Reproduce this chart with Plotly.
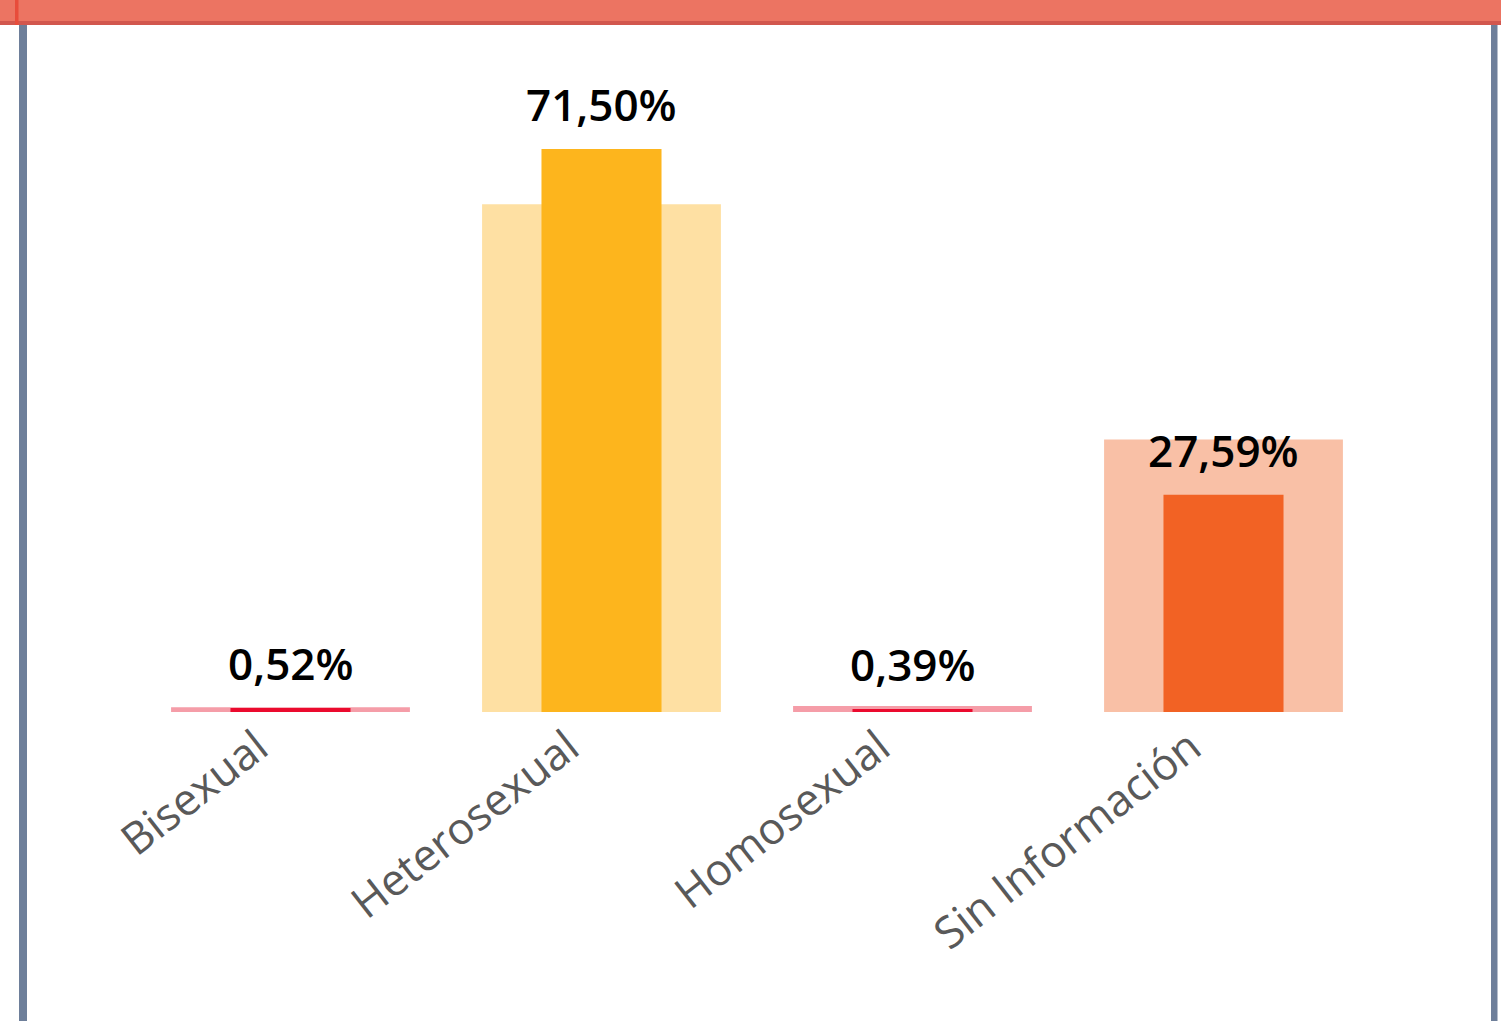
import plotly.graph_objects as go

categories = ["Bisexual", "Heterosexual", "Homosexual", "Sin Información"]
foreground_values = [0.52, 71.50, 0.39, 27.59]
background_values = [0.6, 64.5, 0.75, 34.6]
value_labels = ["0,52%", "71,50%", "0,39%", "27,59%"]

fg_colors = ["#EB0A2E", "#FDB51D", "#EB0A2E", "#F26224"]
bg_colors = ["#F59DA8", "#FEE0A3", "#F59DA8", "#F9C0A6"]

W, H = 1501, 1021
L, R, T, B = 135, 122, 30, 309
PW, PH = W - L - R, H - T - B
YMAX = PH / 7.874

fig = go.Figure()
fig.add_trace(go.Bar(x=categories, y=background_values, width=0.768,
                     marker=dict(color=bg_colors, line=dict(width=0)),
                     hoverinfo="skip"))
fig.add_trace(go.Bar(x=categories, y=foreground_values, width=0.386,
                     marker=dict(color=fg_colors, line=dict(width=0))))

for c, v, lab in zip(categories, foreground_values, value_labels):
    fig.add_annotation(x=c, y=v, text=lab, showarrow=False, yanchor="bottom",
                       yshift=13, font=dict(family="Open Sans", size=44,
                                            color="#000000", weight=600))

def px2x(px):
    return (px - L) / PW

def px2y(py):
    return 1 - (py - T) / PH

shapes = [
    dict(type="rect", xref="paper", yref="paper", x0=px2x(0), x1=px2x(W),
         y0=px2y(0), y1=px2y(21), fillcolor="#EC7462", line=dict(width=0), layer="above"),
    dict(type="rect", xref="paper", yref="paper", x0=px2x(0), x1=px2x(W),
         y0=px2y(21), y1=px2y(25), fillcolor="#D2574E", line=dict(width=0), layer="above"),
    dict(type="rect", xref="paper", yref="paper", x0=px2x(15), x1=px2x(18.5),
         y0=px2y(0), y1=px2y(25), fillcolor="#E84C3B", line=dict(width=0), layer="above"),
    dict(type="rect", xref="paper", yref="paper", x0=px2x(19), x1=px2x(27),
         y0=px2y(25), y1=px2y(H), fillcolor="#6E7F9A", line=dict(width=0), layer="above"),
    dict(type="rect", xref="paper", yref="paper", x0=px2x(1491), x1=px2x(1497.5),
         y0=px2y(25), y1=px2y(H), fillcolor="#6E7F9A", line=dict(width=0), layer="above"),
]

fig.update_layout(
    width=W, height=H,
    margin=dict(l=L, r=R, t=T, b=B, autoexpand=False),
    barmode="overlay",
    showlegend=False,
    plot_bgcolor="white", paper_bgcolor="white",
    shapes=shapes,
    xaxis=dict(range=[-0.5, 3.5], showgrid=False, zeroline=False, showline=False,
               ticks="", tickangle=-38, ticklabelshift=-33, ticklabelstandoff=0,
               tickfont=dict(family="Open Sans", size=44, color="#595959")),
    yaxis=dict(range=[0, YMAX], visible=False, showgrid=False, zeroline=False),
)

fig.write_html("out.html", config={"displayModeBar": False},
               post_script="document.body.style.margin='0';document.body.style.overflow='hidden';")
